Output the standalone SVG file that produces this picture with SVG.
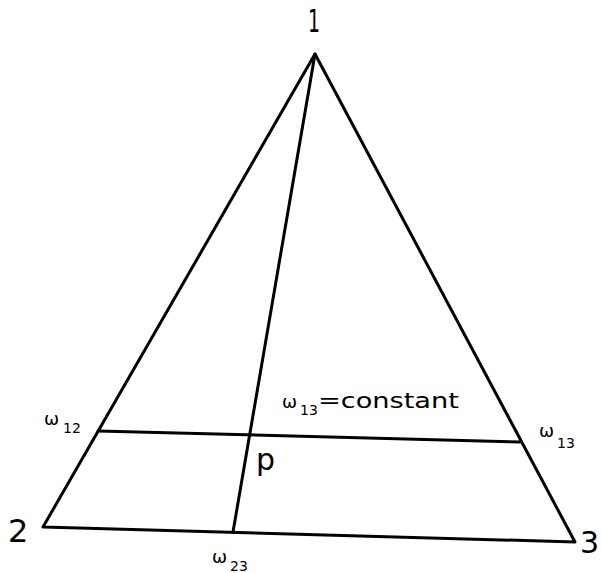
<svg xmlns="http://www.w3.org/2000/svg" width="601" height="573" viewBox="0 0 601 573">
<style>
.ln{stroke:#000;stroke-width:3;fill:none;stroke-linecap:round;stroke-linejoin:round}
.t{font-family:"DejaVu Sans","Liberation Sans",sans-serif;fill:#000}
.big{font-size:32px}
.w{font-size:18px}
.s{font-size:14px}
</style>
<rect width="601" height="573" fill="#fff"/>
<g id="connectors">
<polygon class="ln" points="315,54 43,527 575,542"/>
<line class="ln" x1="315" y1="54" x2="233" y2="532"/>
<line class="ln" x1="98" y1="431" x2="520" y2="442"/>
</g>
<g id="vertex1"><text class="t big" x="308" y="32" textLength="12" lengthAdjust="spacingAndGlyphs">1</text></g>
<g id="vertex2"><text class="t big" x="8" y="542">2</text></g>
<g id="vertex3"><text class="t" font-size="30" x="580" y="553">3</text></g>
<g id="label-w12"><text class="t w" x="44" y="425">ω<tspan class="s" dx="4" dy="8">12</tspan></text></g>
<g id="label-w13-const"><text class="t w" x="282" y="408">ω<tspan class="s" dx="3" dy="7">13</tspan><tspan font-size="22" dy="-7" textLength="141" lengthAdjust="spacingAndGlyphs">=constant</tspan></text></g>
<g id="label-w13"><text class="t w" x="539" y="437">ω<tspan class="s" dx="3" dy="11">13</tspan></text></g>
<g id="label-p"><text class="t" font-size="30" x="256" y="470">p</text></g>
<g id="label-w23"><text class="t w" x="212" y="563">ω<tspan class="s" dx="3" dy="8">23</tspan></text></g>
</svg>
